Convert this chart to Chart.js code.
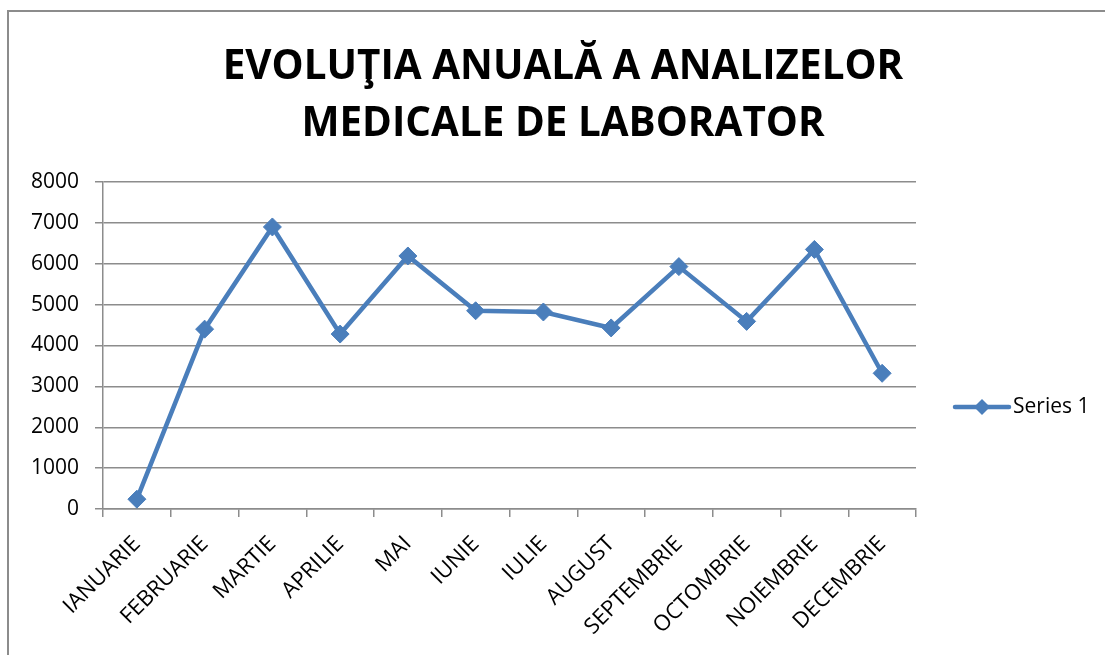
<!DOCTYPE html>
<html>
<head>
<meta charset="utf-8">
<script src="https://cdn.jsdelivr.net/npm/chart.js@4.4.1/dist/chart.umd.min.js"></script>
<style>
  html, body { margin: 0; padding: 0; background: #fff; }
  #wrap { position: relative; width: 1105px; height: 655px; overflow: hidden; }
  #frame { position: absolute; left: 7px; top: 10px; width: 1200px; height: 700px;
           border-left: 2px solid #8c8c8c; border-top: 2px solid #8c8c8c; pointer-events: none; }
  #title { position: absolute; left: 0; width: 1126px; top: 35px; text-align: center; white-space: nowrap;
           font-family: "Open Sans", sans-serif; font-weight: 700; font-size: 40.4px; line-height: 57px; color: #000; }
  canvas { position: absolute; left: 0; top: 0; }
</style>
</head>
<body>
<div id="wrap">
  <canvas id="c" width="1105" height="655"></canvas>
  <div id="title">EVOLUŢIA ANUALĂ A ANALIZELOR<br>MEDICALE DE LABORATOR</div>
  <div id="frame"></div>
</div>
<script>
const categories = ["IANUARIE","FEBRUARIE","MARTIE","APRILIE","MAI","IUNIE","IULIE","AUGUST","SEPTEMBRIE","OCTOMBRIE","NOIEMBRIE","DECEMBRIE"];
const series1 = [240, 4400, 6900, 4280, 6190, 4850, 4820, 4430, 5930, 4590, 6350, 3320];
const seriesName = "Series 1";
const yTicks = [0, 1000, 2000, 3000, 4000, 5000, 6000, 7000, 8000];

const FONT = '"Open Sans", sans-serif';
const LINE = '#4a7ebb';
const GRID = '#8c8c8c';

const legendPlugin = {
  id: 'excelLegend',
  afterDraw(chart) {
    const ctx = chart.ctx;
    const ds = chart.data.datasets[0];
    const y = 407, x0 = 955, x1 = 1009, xm = 982;
    ctx.save();
    ctx.strokeStyle = ds.borderColor;
    ctx.lineWidth = ds.borderWidth;
    ctx.lineCap = 'round';
    ctx.beginPath(); ctx.moveTo(x0, y); ctx.lineTo(x1, y); ctx.stroke();
    ctx.fillStyle = ds.pointBackgroundColor;
    ctx.beginPath();
    ctx.moveTo(xm - 8, y); ctx.lineTo(xm, y - 8); ctx.lineTo(xm + 8, y); ctx.lineTo(xm, y + 8); ctx.closePath();
    ctx.fill();
    ctx.fillStyle = '#000';
    ctx.font = '21px ' + FONT;
    ctx.textBaseline = 'middle';
    ctx.textAlign = 'left';
    ctx.fillText(ds.label, 1013, y);
    ctx.restore();
  }
};

new Chart(document.getElementById('c'), {
  type: 'line',
  data: {
    labels: categories,
    datasets: [{
      label: seriesName,
      data: series1,
      borderColor: LINE,
      backgroundColor: LINE,
      pointBackgroundColor: LINE,
      pointBorderColor: LINE,
      borderWidth: 4.5,
      pointStyle: 'rectRot',
      pointRadius: 9,
      pointBorderWidth: 1,
      tension: 0,
      fill: false
    }]
  },
  options: {
    responsive: false,
    animation: false,
    devicePixelRatio: 1,
    layout: { padding: { left: 0, right: 189, top: 182, bottom: 0 } },
    plugins: { legend: { display: false }, title: { display: false }, tooltip: { enabled: false } },
    scales: {
      x: {
        offset: true,
        grid: { display: true, offset: true, drawOnChartArea: false, drawTicks: true, tickLength: 8, color: GRID, lineWidth: 1.5 },
        border: { display: true, color: GRID, width: 1.5 },
        ticks: { color: '#000', font: { family: FONT, size: 22 }, minRotation: 45, maxRotation: 45, padding: 14, autoSkip: false },
        afterFit(s) { s.height = 146; }
      },
      y: {
        min: 0, max: 8000,
        afterBuildTicks(s) { s.ticks = yTicks.map(v => ({ value: v })); },
        grid: { color: GRID, lineWidth: 1.5, drawTicks: true, tickLength: 8 },
        border: { display: true, color: GRID, width: 1.5 },
        ticks: { color: '#000', font: { family: FONT, size: 21 }, padding: 16, callback: v => String(v) },
        afterFit(s) { s.width = 103; }
      }
    }
  },
  plugins: [legendPlugin]
});
</script>
</body>
</html>
